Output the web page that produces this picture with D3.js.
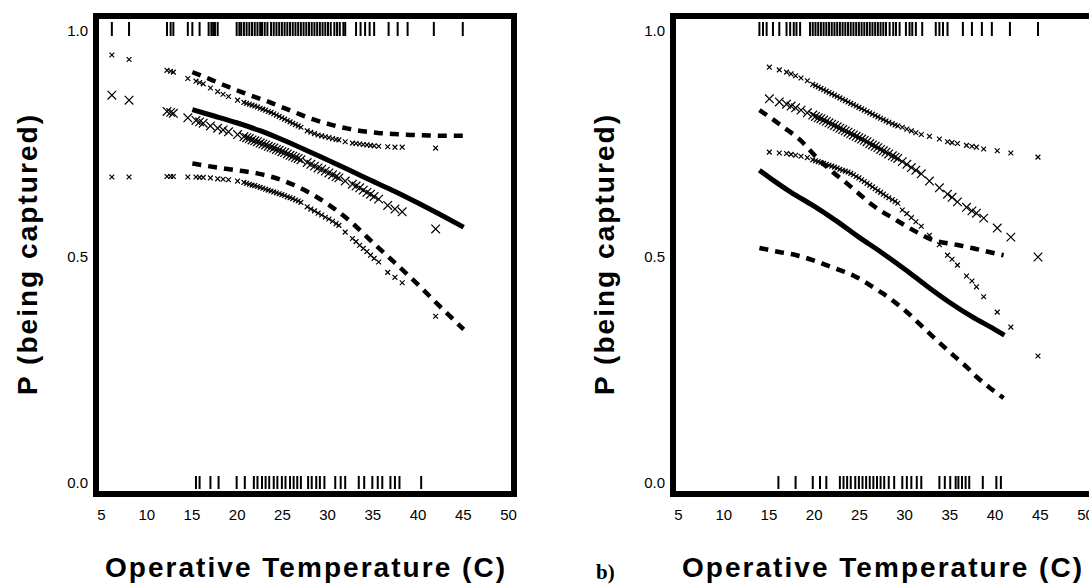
<!DOCTYPE html>
<html>
<head>
<meta charset="utf-8">
<script src="https://cdn.jsdelivr.net/npm/d3@7/dist/d3.min.js"></script>
<style>
  html, body { margin: 0; padding: 0; background: #fff; }
  svg { display: block; }
  .tick text { font-family: "Liberation Sans", Arial, Helvetica, sans-serif; font-size: 15px; fill: #000; }
</style>
</head>
<body>
<svg id="chart" width="1089" height="586"></svg>
<script>
// ---------- Panel A ----------
// temperatures of animals captured (top rug) and not captured (bottom rug)
const rugCapturedA = [6.2, 8.1, 12.3, 12.7, 13.0, 14.6, 15.1, 15.9, 16.9, 17.2, 17.4, 17.6, 17.9,
  20.0, 20.3, 20.5, 20.8, 21.1, 21.4, 21.7, 22.0, 22.3, 22.6, 22.8, 23.1, 23.4, 23.8, 24.1, 24.4,
  24.7, 25.0, 25.3, 25.6, 25.9, 26.2, 26.5, 26.8, 27.1, 27.4, 27.7, 28.0, 28.3, 28.6, 28.9, 29.2,
  29.5, 29.8, 30.1, 30.4, 30.8, 31.1, 31.4, 31.8, 32.0,
  33.2, 33.7, 34.2, 34.7, 35.2, 36.8, 37.8, 38.9, 41.8, 45.0];
const rugMissedA = [15.5, 15.9, 17.1, 18.0, 20.0, 20.9, 21.9, 22.3, 22.8, 23.2, 23.6, 24.1, 24.5,
  25.0, 25.4, 25.9, 26.3, 26.7, 27.1, 27.9, 28.3, 28.8, 29.2, 29.7, 30.9, 31.5, 32.0, 33.5, 34.1,
  35.0, 35.6, 36.1, 37.0, 37.5, 38.0, 40.4];

// per-observation predicted probabilities, three groups
const pointTempsA = [6.2, 8.1, 12.3, 12.7, 13.0, 14.6, 15.5, 15.9, 16.3, 17.1, 17.9, 18.5, 19.1, 20.1,
  20.8, 21.1, 21.4, 21.7, 22.0, 22.3, 22.6, 22.9, 23.2, 23.5, 23.8, 24.1, 24.4, 24.7, 25.0, 25.3,
  25.6, 25.9, 26.2, 26.5, 26.8, 27.1, 27.8, 28.2, 28.6, 29.0, 29.4, 29.8, 30.2, 30.6, 31.0, 31.3,
  32.0, 32.8, 33.2, 33.6, 34.0, 34.4, 34.8, 35.2, 35.7, 36.7, 37.5, 38.3, 42.0];
const groupHighA = [.947, .937, .913, .911, .909, .895, .889, .886, .883, .874, .866, .860, .855, .847,
  .842, .840, .838, .836, .834, .832, .829, .827, .825, .822, .820, .817, .814, .811, .808, .805,
  .802, .799, .796, .793, .790, .787, .779, .776, .773, .770, .768, .766, .764, .762, .760, .759,
  .755, .752, .751, .750, .749, .748, .747, .746, .745, .744, .743, .743, .741];
const groupMidA = [.858, .847, .822, .820, .818, .808, .802, .799, .796, .790, .785, .781, .777, .771,
  .766, .764, .762, .759, .757, .755, .752, .750, .748, .745, .743, .741, .738, .736, .733, .731,
  .728, .725, .723, .720, .718, .715, .709, .705, .701, .697, .694, .690, .686, .682, .678, .675,
  .668, .661, .657, .653, .648, .643, .639, .634, .628, .614, .606, .600, .562];
const groupLowA = [.677, .677, .678, .678, .678, .677, .677, .676, .676, .675, .673, .672, .671, .668,
  .665, .663, .661, .659, .658, .656, .654, .652, .650, .648, .646, .644, .642, .640, .638, .636,
  .633, .631, .629, .626, .624, .621, .611, .606, .602, .597, .593, .588, .584, .579, .574, .570,
  .555, .541, .534, .526, .519, .512, .504, .497, .489, .466, .455, .443, .369];

// fitted curve and its confidence band
const fitTempsA = [15.1, 17.5, 20.0, 22.5, 25.0, 27.5, 30.0, 32.5, 35.0, 37.5, 40.0, 42.5, 45.1];
const fitA = [.826, .812, .797, .780, .760, .738, .715, .692, .668, .645, .620, .594, .566];
const ciLowA = [.707, .699, .692, .684, .670, .648, .618, .580, .533, .487, .440, .390, .340];
const ciHighTempsA = [15.1, 17.1, 18.5, 20.4, 22.3, 23.7, 25.2, 26.7, 28.4, 30.4, 32.3, 34.0, 35.9,
  37.4, 39.3, 41.2, 43.0, 45.1];
const ciHighA = [.909, .893, .881, .866, .852, .842, .830, .818, .805, .793, .784, .778, .774, .772,
  .770, .769, .768, .768];

// ---------- Panel B ----------
const rugCapturedB = [14.0, 14.4, 14.8, 15.5, 16.2, 17.0, 17.4, 17.8, 18.1, 18.5,
  19.6, 19.9, 20.2, 20.5, 20.8, 21.1, 21.4, 21.7, 22.0, 22.3, 22.6, 22.9, 23.2, 23.5, 23.8, 24.1,
  24.4, 24.7, 25.0, 25.3, 25.6, 25.9, 26.2, 26.5, 26.8, 27.1, 27.4, 27.7, 28.0, 28.4, 28.8, 29.1,
  29.5, 30.2, 30.6, 30.9, 31.3, 32.0, 33.5, 33.9, 34.3, 34.8, 36.5, 37.5, 38.6, 39.7, 41.7, 44.8];
const rugMissedB = [16.1, 18.0, 19.9, 20.7, 21.4, 22.9, 23.3, 23.7, 24.1, 24.6, 25.0, 25.4, 25.8,
  26.2, 26.6, 27.0, 27.4, 27.8, 28.3, 28.9, 29.8, 30.3, 30.8, 31.4, 31.9, 33.9, 34.5, 35.1, 35.7,
  36.0, 36.4, 36.8, 37.2, 38.7, 40.2, 40.7];

const pointTempsB = [15.1, 16.2, 17.0, 17.5, 18.0, 18.6, 19.3, 19.9, 20.2, 20.5, 20.8, 21.1, 21.4,
  21.7, 22.0, 22.3, 22.6, 22.9, 23.2, 23.5, 23.8, 24.1, 24.4, 24.7, 25.0, 25.3, 25.6, 25.9, 26.2,
  26.5, 26.8, 27.1, 27.4, 27.7, 28.0, 28.3, 28.7, 29.0, 29.3, 29.8, 30.3, 30.8, 31.3, 31.9, 32.8,
  33.9, 34.8, 35.3, 35.9, 36.9, 37.5, 38.0, 38.8, 40.3, 41.8, 44.8];
const groupHighB = [.920, .914, .909, .905, .901, .896, .890, .882, .879, .876, .873, .870, .867,
  .864, .861, .858, .855, .852, .849, .846, .843, .840, .837, .834, .831, .828, .825, .822, .819,
  .816, .813, .810, .807, .804, .801, .798, .795, .792, .790, .787, .783, .779, .775, .771, .767,
  .761, .755, .753, .751, .747, .745, .743, .739, .735, .730, .721];
const groupMidB = [.850, .843, .838, .834, .830, .825, .819, .814, .811, .808, .806, .803, .800,
  .797, .794, .791, .788, .785, .782, .779, .776, .773, .770, .767, .764, .761, .758, .755, .751,
  .748, .745, .742, .738, .735, .732, .728, .724, .721, .718, .711, .705, .698, .692, .684, .668,
  .653, .639, .632, .622, .610, .602, .597, .586, .564, .544, .500];
const groupLowB = [.732, .730, .729, .727, .725, .723, .720, .715, .713, .711, .709, .707, .705,
  .703, .701, .699, .697, .694, .692, .690, .688, .685, .682, .678, .675, .671, .667, .663, .659,
  .655, .651, .647, .643, .639, .635, .631, .627, .623, .619, .604, .596, .587, .578, .568, .548,
  .527, .504, .495, .482, .458, .447, .434, .412, .378, .345, .281];

const fitTempsB = [14.0, 15.5, 17.5, 20.0, 22.5, 25.0, 27.5, 30.0, 32.5, 35.0, 37.5, 40.0, 41.1];
const fitB = [.692, .670, .643, .613, .580, .544, .510, .474, .436, .400, .368, .340, .327];
const ciHighTempsB = [14.0, 15.1, 16.6, 18.5, 20.3, 22.1, 23.6, 25.0, 26.5, 29.1, 31.4, 33.1, 35.8,
  37.5, 39.4, 41.0];
const ciHighB = [.825, .810, .788, .759, .721, .688, .664, .640, .615, .582, .555, .538, .527, .520,
  .511, .504];
const ciLowTempsB = [14.0, 16.2, 18.1, 19.9, 21.4, 22.9, 24.7, 26.2, 27.6, 29.1, 30.2, 31.7, 32.8,
  34.2, 35.3, 36.9, 38.0, 39.4, 41.0];
const ciLowB = [.520, .511, .504, .493, .482, .471, .456, .438, .420, .398, .380, .352, .331, .305,
  .285, .257, .235, .212, .188];

// ---------- shared axis text ----------
const xTicks = [5, 10, 15, 20, 25, 30, 35, 40, 45, 50];
const yTicks = [0, 0.5, 1];
const xTitle = "Operative Temperature (C)";
const yTitle = "P (being captured)";
const panelTag = "b)";

const zip = (xs, ys) => xs.map((x, i) => [x, ys[i]]);

const panels = [
  {
    shift: 0,
    rugTop: rugCapturedA, rugBottom: rugMissedA,
    temps: pointTempsA, high: groupHighA, mid: groupMidA, low: groupLowA,
    fit: zip(fitTempsA, fitA), ciLow: zip(fitTempsA, ciLowA), ciHigh: zip(ciHighTempsA, ciHighA)
  },
  {
    shift: 577,
    rugTop: rugCapturedB, rugBottom: rugMissedB,
    temps: pointTempsB, high: groupHighB, mid: groupMidB, low: groupLowB,
    fit: zip(fitTempsB, fitB), ciLow: zip(ciLowTempsB, ciLowB), ciHigh: zip(ciHighTempsB, ciHighB)
  }
];

const svg = d3.select("#chart");
svg.append("rect").attr("width", 1089).attr("height", 586).attr("fill", "#fff");

const font = '"Liberation Sans", Arial, Helvetica, sans-serif';

function crossPath(s) {
  return `M${-s},${-s}L${s},${s}M${-s},${s}L${s},${-s}`;
}

panels.forEach(p => {
  const g = svg.append("g").attr("transform", `translate(${p.shift},0)`);
  const x = d3.scaleLinear().domain([5, 50]).range([101, 508]);
  const y = d3.scaleLinear().domain([0, 1]).range([483, 31]);

  // frame
  g.append("rect")
    .attr("x", 96).attr("y", 16).attr("width", p.shift ? 420 : 418).attr("height", 478)
    .attr("fill", "none").attr("stroke", "#000").attr("stroke-width", 6);

  // axes (labels only)
  const xAxis = g.append("g").attr("transform", "translate(0,497)")
    .call(d3.axisBottom(x).tickValues(xTicks).tickSize(0).tickPadding(12).tickFormat(d3.format("d")));
  xAxis.select(".domain").remove();
  const yAxis = g.append("g").attr("transform", "translate(93,0)")
    .call(d3.axisLeft(y).tickValues(yTicks).tickSize(0).tickPadding(5).tickFormat(d3.format(".1f")));
  yAxis.select(".domain").remove();
  g.selectAll(".tick text").attr("font-family", font).attr("font-size", 15);

  // rugs
  g.append("g").selectAll("line").data(p.rugTop).join("line")
    .attr("x1", d => x(d)).attr("x2", d => x(d))
    .attr("y1", 22).attr("y2", 36)
    .attr("stroke", "#000").attr("stroke-width", 2);
  g.append("g").selectAll("line").data(p.rugBottom).join("line")
    .attr("x1", d => x(d)).attr("x2", d => x(d))
    .attr("y1", 476).attr("y2", 489)
    .attr("stroke", "#000").attr("stroke-width", 2);

  // per-observation crosses
  const groups = [
    { vals: p.high, size: 2.4 },
    { vals: p.mid, size: 4.3 },
    { vals: p.low, size: 2.4 }
  ];
  groups.forEach(grp => {
    g.append("g").selectAll("path").data(p.temps.map((t, i) => [t, grp.vals[i]])).join("path")
      .attr("transform", d => `translate(${x(d[0])},${y(d[1])})`)
      .attr("d", crossPath(grp.size))
      .attr("fill", "none").attr("stroke", "#000").attr("stroke-width", 1.2);
  });

  // fitted curve and confidence limits
  const line = d3.line().x(d => x(d[0])).y(d => y(d[1])).curve(d3.curveMonotoneX);
  g.append("path").datum(p.fit).attr("d", line)
    .attr("fill", "none").attr("stroke", "#000").attr("stroke-width", 5)
    .attr("stroke-linejoin", "round");
  [p.ciLow, p.ciHigh].forEach(ci => {
    g.append("path").datum(ci).attr("d", line)
      .attr("fill", "none").attr("stroke", "#000").attr("stroke-width", 4.5)
      .attr("stroke-dasharray", "9,7");
  });

  // axis titles
  g.append("text")
    .attr("x", 305).attr("y", 577)
    .attr("text-anchor", "middle")
    .attr("font-family", font).attr("font-weight", "bold").attr("font-size", 28)
    .attr("textLength", 400).attr("lengthAdjust", "spacing")
    .text(xTitle);
  g.append("text")
    .attr("transform", "translate(37,255) rotate(-90)")
    .attr("text-anchor", "middle")
    .attr("font-family", font).attr("font-weight", "bold").attr("font-size", 28)
    .attr("textLength", 280).attr("lengthAdjust", "spacing")
    .text(yTitle);
});

// panel tag
svg.append("text")
  .attr("x", 596).attr("y", 579)
  .attr("font-family", '"Liberation Serif", "Times New Roman", serif')
  .attr("font-weight", "bold").attr("font-size", 21)
  .text(panelTag);
</script>
</body>
</html>
